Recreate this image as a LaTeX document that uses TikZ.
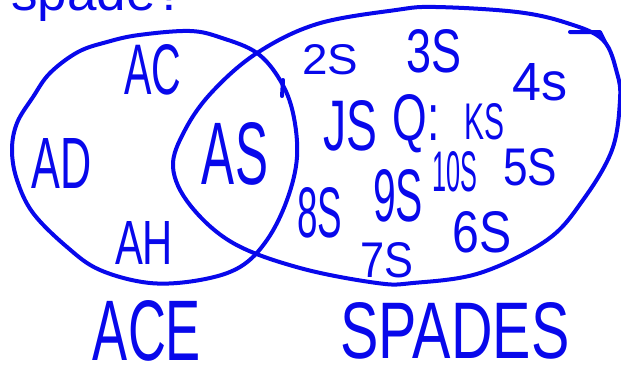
\documentclass[tikz,border=0pt]{standalone}
\usepackage{fontspec}
\setmainfont{Liberation Sans}
\usepackage{graphicx}
\definecolor{pen}{RGB}{8,8,235}
\newcommand{\hw}[3]{\resizebox{#1pt}{#2pt}{#3}}
\begin{document}
\begin{tikzpicture}[x=1pt,y=-1pt,
  ink/.style={draw=pen, line width=4pt, line cap=round, line join=round},
  lbl/.style={inner sep=0pt, text=pen}]
\useasboundingbox (0,0) rectangle (621,368);
% title
\node[lbl, anchor=base west] (title) at (11,10) {\fontsize{53}{53}\selectfont spade?};
% ACE set
\draw[ink] plot[smooth cycle, tension=0.6] coordinates {
 (12,150) (17,123) (33,97) (50,73) (78,52) (107,42) (139,35) (190,31) (222,38)
 (257,53) (280,80) (293,113) (297,157) (287,200) (267,240) (240,267) (200,280)
 (150,283) (100,270) (67,247) (33,213) (17,180)};
% SPADES set
\draw[ink] plot[smooth cycle, tension=0.6] coordinates {
 (173,167) (185,130) (212,92) (257,53) (317,24) (396,10) (436,7) (517,12)
 (567,23) (603,40) (617,73) (620,100) (612,150) (583,200) (547,240) (480,273)
 (413,283) (377,283) (300,268) (233,243) (190,205)};
% small overdraw strokes
\draw[ink] (570,32) -- (600,32) -- (605,42);
\draw[ink] (283,80) -- (282,96);
% labels
\node[lbl] (ac) at (153,70) {\hw{57}{50}{AC}};
\node[lbl] (ad) at (62,163) {\hw{60}{50}{AD}};
\node[lbl] (as) at (235,154) {\hw{66}{62}{AS}};
\node[lbl] (ah) at (144,243) {\hw{58}{43}{AH}};
\node[lbl] (s2) at (330,60) {\hw{56}{30}{2S}};
\node[lbl] (s3) at (434,51) {\hw{55}{43}{3S}};
\node[lbl] (s4) at (540,82) {\hw{55}{37}{4s}};
\node[lbl] (sj) at (350,126) {\hw{54}{50}{JS}};
\node[lbl] (sq) at (416,124) {\hw{47}{46}{Q:}};
\node[lbl] (sk) at (484,122) {\hw{40}{36}{KS}};
\node[lbl] (s10) at (455,172) {\hw{45}{40}{10S}};
\node[lbl] (s5) at (530,167) {\hw{54}{37}{5S}};
\node[lbl] (s9) at (398,196) {\hw{50}{52}{9S}};
\node[lbl] (s8) at (320,213) {\hw{45}{50}{8S}};
\node[lbl] (s6) at (482,232) {\hw{59}{41}{6S}};
\node[lbl] (s7) at (387,260) {\hw{53}{35}{7S}};
\node[lbl] (ace) at (147,331) {\hw{108}{60}{ACE}};
\node[lbl] (spades) at (455,331) {\hw{229}{56}{SPADES}};
\end{tikzpicture}
\end{document}
